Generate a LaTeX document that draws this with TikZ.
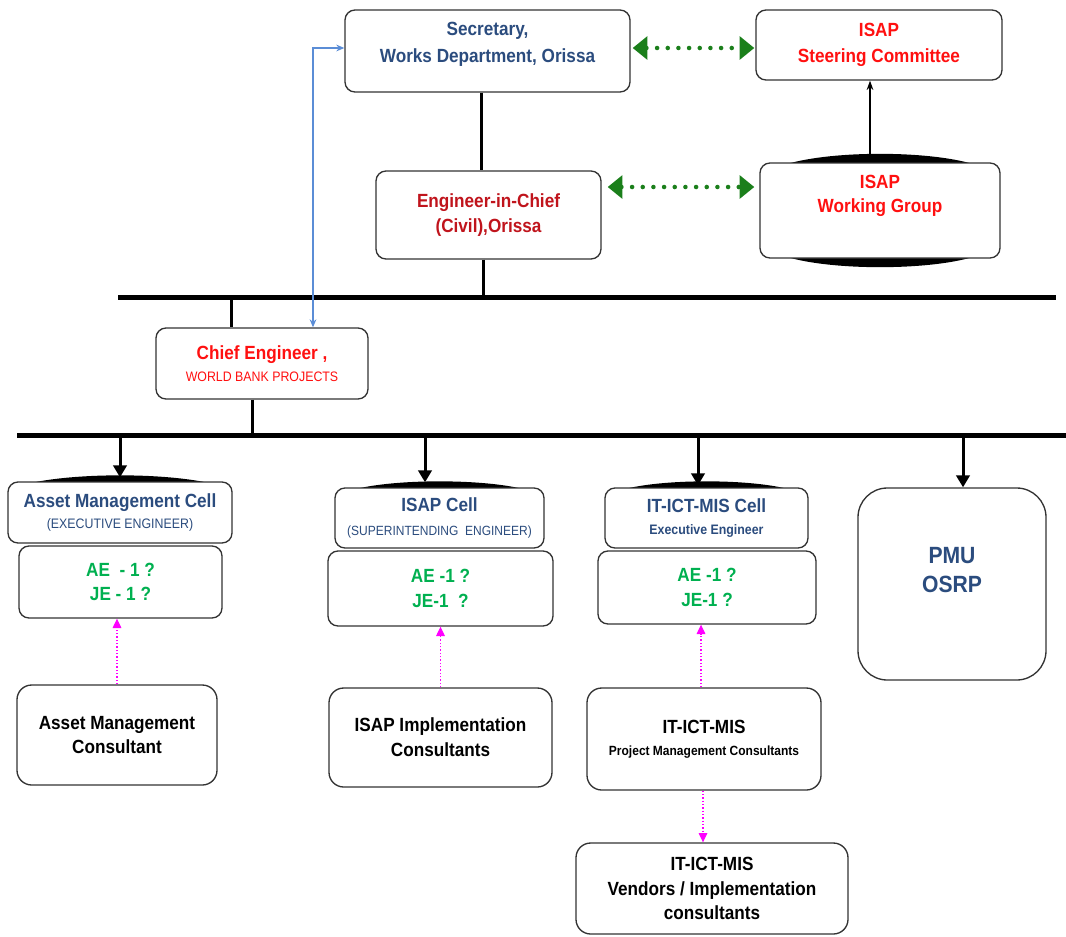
\documentclass[tikz,border=0pt]{standalone}
\usepackage{fontspec}
\setmainfont{Liberation Sans}[FakeStretch=0.9]
\usetikzlibrary{arrows.meta,calc,backgrounds}
\definecolor{dblue}{HTML}{2B4C7E}
\definecolor{dred}{HTML}{C0141C}
\definecolor{isred}{HTML}{FF1010}
\definecolor{agreen}{HTML}{00B050}
\definecolor{dgreen}{HTML}{1B7F1B}
\definecolor{magen}{HTML}{FF00FF}
\definecolor{lblue}{HTML}{5B8DD6}
\definecolor{bord}{HTML}{333333}
\newcommand\mainf{\fontsize{14.3}{18.5}\selectfont}
\newcommand\smallf{\mdseries\fontsize{10.3}{13}\selectfont}
\newcommand\pmuf{\fontsize{17.6}{22}\selectfont}
\newcommand\topbulge[1]{\fill ($(#1.north west)+(8,6)$) .. controls ($(#1.north)+(-60,-10)$) and ($(#1.north)+(60,-10)$) .. ($(#1.north east)+(-8,6)$) -- cycle;}
\tikzset{
 box/.style={draw=bord, line width=1pt, fill=white, rounded corners=7.5pt, inner sep=0pt, align=center, font=\bfseries\mainf},
 sz/.style 2 args={minimum width=#1*0.75pt, minimum height=#2*0.75pt},
 conn/.style={line width=2.25pt},
 bar/.style={line width=3.75pt},
 down/.style={line width=2.25pt,-{Triangle[length=9pt,width=10pt]}},
 gdot/.style={dgreen,line width=3.4pt,line cap=round,dash pattern=on 0pt off 8pt,
   {Triangle[length=11pt,width=17pt]}-{Triangle[length=11pt,width=17pt]}},
 mag/.style={magen,line width=0.8pt,dash pattern=on 1pt off 1.5pt,-{Triangle[length=7pt,width=6.5pt]}},
 blu/.style={lblue,line width=1.1pt,{Stealth[length=6pt,width=5pt]}-{Stealth[length=6pt,width=5pt]}},
 thinarr/.style={line width=1pt,-{Stealth[length=7pt,width=5pt]}}
}
\begin{document}
\begin{tikzpicture}[x=0.75pt,y=-0.75pt]
\useasboundingbox (0,0) rectangle (1066,936);

% top level
\node[box,sz={285}{82},text=dblue,text depth=13pt] (sec) at (487.5,51) {Secretary,\\[2pt]Works Department, Orissa};
\node[box,sz={246}{70},text=isred] (sc) at (879,45) {ISAP\\[1pt]Steering Committee};
\node[box,sz={225}{88},text=dred] (eic) at (488.5,215) {Engineer-in-Chief\\(Civil),Orissa};
\node[box,sz={240}{95},text=isred,text depth=25pt] (wg) at (880,210.5) {ISAP\\Working Group};
\node[box,sz={212}{71},text=isred] (ce) at (262,363.5) {Chief Engineer ,\\[-2pt]{\smallf WORLD BANK PROJECTS}};

% cells
\node[box,sz={224}{61},text=dblue] (amc) at (120,512.5) {Asset Management Cell\\[-2pt]{\smallf (EXECUTIVE ENGINEER)}};
\node[box,sz={203}{72},text=agreen] (amae) at (120.5,582) {AE\ \ - 1 ?\\JE - 1 ?};
\node[box,sz={209}{60},text=dblue] (isc) at (439.5,518) {ISAP Cell\\[-1pt]{\smallf\fontsize{10}{13}\selectfont (SUPERINTENDING\ \ ENGINEER)}};
\node[box,sz={225}{75},text=agreen] (isae) at (440.5,588.5) {AE -1 ?\\JE-1\ \ ?};
\node[box,sz={203}{60},text=dblue] (itc) at (706.5,518) {IT-ICT-MIS Cell\\[-2pt]{\bfseries\fontsize{10.3}{13}\selectfont Executive Engineer}};
\node[box,sz={218}{73},text=agreen] (itae) at (707,587.5) {AE -1 ?\\JE-1 ?};
\node[box,sz={188}{192},text=dblue,rounded corners=22pt,font=\bfseries\pmuf,text depth=21pt] (pmu) at (952,584) {PMU\\OSRP};

% consultants
\node[box,sz={200}{100},rounded corners=11pt] (amcon) at (117,735) {Asset Management\\Consultant};
\node[box,sz={223}{99},rounded corners=11pt] (iscon) at (440.5,737.5) {ISAP Implementation\\Consultants};
\node[box,sz={234}{102},rounded corners=11pt] (itcon) at (704,739) {IT-ICT-MIS\\[-2pt]{\fontsize{10}{13}\selectfont Project Management Consultants}};
\node[box,sz={272}{91},rounded corners=11pt] (itven) at (712,888.5) {IT-ICT-MIS\\Vendors / Implementation\\consultants};

% bulges
\begin{scope}[on background layer]
\fill ($(wg.north west)+(12,8)$) .. controls ($(wg.north)+(-70,-14)$) and ($(wg.north)+(70,-14)$) .. ($(wg.north east)+(-12,8)$) -- cycle;
\fill ($(wg.south west)+(12,-8)$) .. controls ($(wg.south)+(-70,14)$) and ($(wg.south)+(70,14)$) .. ($(wg.south east)+(-12,-8)$) -- cycle;
\topbulge{amc}
\topbulge{isc}
\topbulge{itc}
\end{scope}

% bars
\coordinate (barAL) at (118,297);
\coordinate (barAR) at (1056,297);
\coordinate (barBL) at (17,435);
\coordinate (barBR) at (1066,435);
\draw[bar] (barAL) -- (barAR);
\draw[bar] (barBL) -- (barBR);

% vertical connectors
\draw[conn] ($(sec.south)+(-6.5,0)$) -- ($(eic.north)+(-7.5,0)$);
\coordinate (eicS) at ($(eic.south)+(-5.5,0)$);
\draw[conn] (eicS) -- (eicS |- barAL);
\coordinate (ceN) at ($(ce.north)+(-31,0)$);
\draw[conn] (ceN |- barAL) -- (ceN);
\coordinate (ceS) at ($(ce.south)+(-10,0)$);
\draw[conn] (ceS) -- (ceS |- barBL);

% down arrows
\coordinate (amN) at ($(amc.north)+(0,-4)$);
\draw[down] (amN |- barBL) -- (amN);
\coordinate (isN) at ($(isc.north)+(-14.5,-5)$);
\draw[down] (isN |- barBL) -- (isN);
\coordinate (itN) at ($(itc.north)+(-8.5,-2)$);
\draw[down] (itN |- barBL) -- (itN);
\coordinate (pmN) at ($(pmu.north)+(11,0)$);
\draw[down] (pmN |- barBL) -- (pmN);

% green dotted links
\draw[gdot] ($(sec.east)+(2,-3)$) -- ($(sc.west)+(-1,3)$);
\draw[gdot] ($(eic.east)+(6,-28)$) -- ($(wg.west)+(-5,-23.5)$);

% working group to steering committee
\draw[thinarr] ($(wg.north)+(-10,-8)$) -- ($(sc.south)+(-9,0)$);

% blue link
\draw[blu] ($(sec.west)+(0,-3)$) -| ($(ce.north)+(51,0)$);

% magenta dotted
\draw[mag] (amcon.north) -- (amcon.north |- amae.south);
\draw[mag] (iscon.north) -- (iscon.north |- isae.south);
\coordinate (itcN) at ($(itcon.north)+(-3,0)$);
\draw[mag] (itcN) -- (itcN |- itae.south);
\coordinate (itcS) at ($(itcon.south)+(-1,0)$);
\draw[mag] (itcS) -- (itcS |- itven.north);
\end{tikzpicture}
\end{document}
